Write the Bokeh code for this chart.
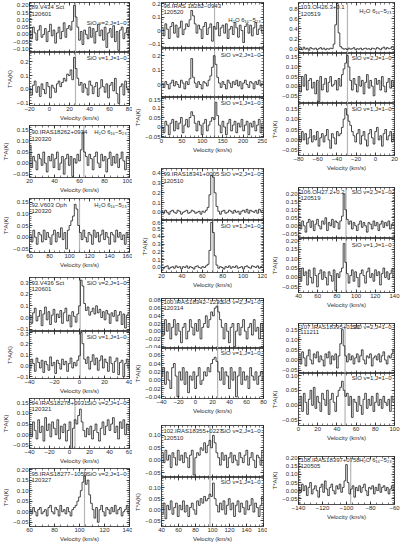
import numpy as np
from bokeh.plotting import figure
from bokeh.layouts import column, row
from bokeh.models import LinearAxis, FixedTicker, Span, Label, CustomLabelingPolicy
from bokeh.embed import file_html
from bokeh.resources import INLINE

FONT = "Liberation Sans"
INK = "#2b2b2b"
FS = "6px"

SIO2 = "SiO v=2,J=1−0"
SIO1 = "SiO v=1,J=1−0"
H2O = "H₂O 6₁₆−5₂₃"
YLABEL = "T*A(K)"
XLABEL = "Velocity (km/s)"

# ---------------- tick values ----------------
Y05 = [-0.10, -0.05, 0.0, 0.05, 0.10, 0.15, 0.20]
Y1 = [-0.1, 0.0, 0.1, 0.2, 0.3, 0.4, 0.5, 0.6]
Y02 = [-0.04, -0.02, 0.0, 0.02, 0.04, 0.06, 0.08]
Y2 = [0.0, 0.2, 0.4, 0.6, 0.8]

# ---------------- spectra (antenna temperature, K) ----------------
P89_S2 = [0.02,-0.03,0.05,0.01,-0.04,0.03,0.06,-0.02,0.00,0.04,
          -0.05,0.02,0.07,-0.01,0.03,-0.06,0.01,0.05,-0.03,0.02,
          0.08,-0.02,0.04,0.06,0.03,0.09,0.20,0.12,0.05,-0.04,
          0.02,-0.07,0.03,0.00,-0.03,0.05,-0.02,0.04,-0.06,0.02,
          0.07,-0.01,0.03,-0.04,0.05,-0.09,0.01,0.04,-0.02,0.06,
          -0.05,0.02,-0.11,0.03,0.05,-0.03,0.01,0.04,-0.02]
P89_S1 = [0.01,-0.04,0.03,0.06,-0.02,0.02,-0.05,0.04,0.00,-0.03,
          0.05,0.02,-0.06,0.03,0.01,-0.02,0.04,0.06,0.02,0.05,
          0.08,0.06,0.11,0.10,0.14,0.07,0.23,0.15,0.08,0.03,
          0.05,-0.02,0.04,0.01,-0.04,0.06,0.03,-0.03,0.02,0.05,
          -0.05,0.01,0.07,0.02,-0.02,0.04,-0.06,0.03,0.05,-0.01,
          0.08,-0.03,-0.10,0.02,0.04,-0.04,0.06,0.01,-0.02]
P90_H2O = [0.08,-0.02,0.03,0.01,-0.03,0.04,0.02,-0.01,0.05,0.00,
           -0.04,0.03,0.01,0.04,-0.02,0.02,0.05,-0.03,0.00,0.03,
           -0.05,0.02,0.04,-0.01,0.03,-0.06,0.02,0.00,0.04,0.01,
           0.06,0.14,0.05,0.03,-0.01,0.04,0.02,-0.03,0.03,0.05,
           0.00,-0.02,0.04,0.01,0.03,-0.04,0.02,0.05,-0.01,0.03,
           0.00,0.04,-0.02,0.02,0.05,0.01,-0.03,0.03,0.02]
P92_H2O = [0.01,-0.02,0.03,0.00,-0.03,0.02,0.01,-0.02,0.03,-0.01,
           0.02,0.00,-0.03,0.01,0.03,-0.02,0.02,0.00,0.04,-0.01,
           0.02,-0.05,0.03,0.05,0.07,0.09,0.14,0.12,0.05,0.02,
           -0.01,0.03,0.00,-0.02,0.02,0.01,-0.03,0.03,0.00,0.02,
           -0.02,0.01,0.03,-0.01,0.02,0.00,-0.03,0.02,0.01,-0.02,
           0.03,0.00,0.02,-0.01,0.01,-0.03,0.02,0.00]
P93_S2 = [0.02,-0.05,0.04,0.08,-0.03,0.01,0.06,-0.07,0.03,0.09,
          -0.02,0.05,-0.06,0.02,0.07,-0.04,0.03,0.00,0.06,-0.05,
          0.04,0.08,-0.03,0.02,-0.08,0.05,0.01,-0.04,0.03,0.10,
          0.32,0.27,0.12,0.06,0.09,0.02,0.05,0.08,0.03,0.10,
          0.04,0.07,0.00,0.05,-0.02,0.06,0.03,-0.05,0.04,0.01,
          0.06,-0.03,0.02,0.05,-0.06,0.03,-0.09,0.02,0.04]
P93_S1 = [-0.03,0.06,0.02,-0.05,0.07,0.03,-0.02,0.05,-0.06,0.04,
          0.01,-0.04,0.08,0.00,0.03,-0.07,0.05,0.02,-0.03,0.06,
          0.01,0.04,-0.05,0.02,0.07,-0.02,0.03,0.00,0.05,0.09,
          0.30,0.20,0.06,0.02,0.08,-0.03,0.04,0.10,0.01,0.07,
          -0.04,0.05,0.09,-0.02,0.06,0.03,-0.05,0.08,0.02,-0.06,
          0.04,0.07,-0.08,0.03,0.05,-0.10,0.02,0.06,-0.03]
P94_S2 = [0.05,-0.01,0.06,0.02,-0.02,0.07,0.01,0.04,-0.03,0.08,
          0.02,0.05,-0.01,0.06,0.03,0.00,0.07,-0.02,0.04,0.01,
          0.05,-0.03,0.02,0.06,-0.07,0.03,0.07,0.05,0.09,0.12,
          0.06,0.02,-0.01,0.03,0.00,0.04,-0.02,0.02,0.05,0.01,
          -0.03,0.03,0.06,0.00,0.04,0.07,0.02,0.05,0.08,0.01,
          0.04,-0.02,0.06,0.03,0.07,0.00,0.05,0.02]
P95_S2 = [0.01,-0.01,0.02,0.00,-0.02,0.01,0.02,-0.01,0.00,0.01,
          -0.02,0.02,0.03,0.00,-0.01,0.02,0.01,-0.02,0.03,0.00,
          0.01,-0.01,0.02,0.00,-0.02,0.01,0.02,0.03,0.05,0.07,
          0.10,0.14,0.17,0.13,0.15,0.08,0.04,0.01,-0.03,0.02,
          -0.05,0.01,0.03,0.00,-0.02,0.02,0.01,-0.01,0.02,0.00,
          0.03,-0.01,0.01,0.02,-0.02,0.00,0.01,0.03,-0.01]
P96_H2O = [0.02,-0.04,0.05,0.01,-0.06,0.03,0.06,-0.02,0.04,-0.05,
           0.02,0.07,-0.03,0.01,0.05,0.03,0.08,0.15,0.11,0.05,
           -0.02,0.04,0.01,-0.06,0.03,0.06,-0.03,0.02,0.05,-0.08,
           0.03,0.01,0.06,-0.04,0.02,0.04,-0.02,0.05,-0.06,0.01,
           0.03,-0.03,0.06,0.02,-0.05,0.04,0.00,-0.09,0.03,0.05,
           -0.02,0.04,-0.04,0.02,0.06,-0.03,0.01,0.04,-0.02]
P96_S2 = [0.01,-0.02,0.02,0.00,-0.03,0.01,0.03,-0.01,0.02,0.00,
          -0.02,0.03,0.01,-0.03,0.02,0.00,0.04,0.18,0.05,0.01,
          -0.02,0.02,0.00,-0.03,0.02,0.01,-0.01,0.03,0.06,0.12,
          0.20,0.14,0.05,0.01,-0.02,0.02,0.00,-0.03,0.03,0.01,
          -0.02,0.02,0.00,0.03,-0.01,0.02,-0.03,0.01,0.03,0.00,
          -0.02,0.02,0.01,-0.03,0.02,0.00,0.03,-0.01,0.01]
P96_S1 = [0.00,-0.03,0.03,0.01,-0.04,0.02,0.04,-0.02,0.03,-0.01,
          0.02,0.05,-0.03,0.01,0.04,0.00,0.05,0.08,0.06,0.02,
          -0.02,0.03,0.01,-0.04,0.02,0.04,-0.02,0.01,0.03,0.05,
          0.04,0.13,0.06,0.01,-0.03,0.03,0.00,-0.04,0.02,0.04,
          -0.02,0.01,0.03,-0.03,0.02,0.00,0.04,-0.02,0.01,0.03,
          -0.04,0.02,0.00,0.03,-0.02,0.01,0.04,-0.03,0.02]
P99_S2 = [0.01,-0.01,0.02,0.00,-0.02,0.01,0.02,0.00,-0.01,0.02,
          0.01,-0.02,0.00,0.01,0.02,-0.01,0.00,0.02,0.01,-0.01,
          0.00,0.01,-0.02,0.01,0.00,0.02,0.05,0.18,0.38,0.36,
          0.20,0.06,0.01,-0.02,0.01,0.02,-0.01,0.00,0.02,0.01,
          -0.01,0.02,0.00,0.01,-0.02,0.01,0.02,0.00,0.03,-0.01,
          0.02,0.01,0.00,0.02,-0.01,0.03,0.01,0.02]
P99_S1 = [0.00,-0.01,0.01,0.02,-0.02,0.00,0.01,-0.01,0.02,0.00,
          0.01,-0.02,0.01,0.00,0.02,-0.01,0.01,0.00,-0.02,0.01,
          0.02,0.00,-0.01,0.01,0.00,0.02,0.04,0.22,0.58,0.45,
          0.15,0.03,-0.01,0.01,0.00,-0.02,0.01,0.00,0.02,-0.01,
          0.01,0.00,0.02,-0.01,0.00,0.01,-0.02,0.01,0.02,0.00,
          -0.01,0.02,0.01,0.00,0.02,-0.01,0.01,0.00]
P100_S2 = [0.02,-0.01,0.03,0.00,0.02,-0.02,0.01,0.03,-0.01,0.02,
           0.00,-0.03,0.01,0.02,-0.02,0.00,0.03,0.01,-0.01,0.02,
           0.00,0.03,-0.02,0.01,0.02,0.04,0.01,0.03,0.05,0.04,
           0.06,0.065,0.05,0.03,0.01,-0.02,0.02,0.00,-0.03,0.01,
           0.02,-0.04,0.00,0.02,-0.01,0.01,0.03,0.00,-0.02,0.01,
           0.02,-0.01,0.03,0.00,0.01,-0.02,0.02,0.00]
P100_S1 = [0.01,0.03,-0.01,0.02,0.00,-0.02,0.03,0.04,0.01,-0.04,
           0.02,0.00,0.03,-0.01,0.02,-0.03,0.01,0.00,0.02,-0.02,
           0.01,0.03,-0.01,0.00,0.02,0.01,0.03,0.02,0.04,0.05,
           0.055,0.045,0.02,0.00,0.03,-0.01,0.02,0.01,-0.02,0.03,
           0.00,0.02,-0.04,0.01,0.03,-0.01,0.02,0.00,0.01,-0.02,
           0.03,0.01,0.00,0.02,-0.01,0.01,0.02,0.00]
P102_S2 = [0.03,-0.01,0.04,0.00,0.02,-0.03,0.03,0.01,-0.02,0.04,
           0.00,0.02,-0.01,0.03,0.01,-0.03,0.02,0.04,-0.06,0.01,
           0.03,0.02,0.05,0.04,0.07,0.03,0.06,0.08,0.05,0.10,
           0.07,0.03,0.01,-0.02,0.03,0.00,0.02,-0.03,0.01,0.03,
           -0.01,0.02,0.00,-0.02,0.03,0.01,-0.01,0.02,0.04,-0.02,
           0.01,0.03,0.00,-0.03,0.02,0.01,-0.02,0.04]
P102_S1 = [-0.02,0.03,-0.04,0.02,0.00,0.04,-0.02,0.01,0.03,-0.03,
           0.02,0.00,0.04,-0.01,0.02,-0.03,0.01,0.03,0.00,-0.02,
           0.04,0.02,0.05,0.03,0.06,0.04,0.05,0.07,0.06,0.12,
           0.05,0.02,-0.01,0.03,0.00,0.04,-0.02,0.02,0.05,0.00,
           0.03,-0.03,0.02,0.04,-0.01,0.03,0.01,-0.02,0.04,0.00,
           0.02,0.05,-0.01,0.03,0.01,-0.03,0.02,0.06]
P103_H2O = [0.01,0.03,-0.01,0.04,0.00,0.02,-0.02,0.03,0.01,0.00,
            0.02,-0.01,0.01,0.03,0.00,0.02,-0.01,0.01,0.00,0.02,
            0.01,0.10,0.48,0.90,0.32,0.05,0.02,0.00,0.01,-0.01,
            0.02,0.00,0.01,0.03,-0.01,0.01,0.00,0.02,-0.01,0.01,
            0.02,0.00,0.01,-0.01,0.02,0.01,0.00,0.03,0.01,-0.01,
            0.02,0.04,0.00,0.03,0.01,0.02,0.05,0.02]
P103_S2 = [0.01,-0.03,0.05,0.00,0.06,-0.02,0.03,0.04,-0.01,0.02,
           -0.04,0.03,-0.08,0.05,-0.02,0.01,0.04,-0.03,0.02,0.05,
           0.00,0.01,0.03,-0.02,0.04,0.00,0.06,0.09,0.12,0.16,
           0.10,0.03,-0.02,0.04,0.01,-0.03,0.05,0.00,0.03,-0.04,
           0.02,0.06,-0.01,0.03,0.00,-0.05,0.04,0.01,0.03,-0.02,
           0.05,0.00,-0.03,0.02,0.04,-0.01,0.03,0.00]
P103_S1 = [0.02,-0.01,0.04,0.00,0.03,-0.02,0.01,0.05,-0.01,0.02,
           0.00,0.04,-0.03,0.01,0.03,-0.01,0.02,0.05,0.00,-0.04,
           0.03,0.01,-0.02,0.04,0.02,0.03,0.06,0.10,0.15,0.12,
           0.09,0.07,0.04,0.02,-0.01,0.03,0.05,-0.02,0.02,0.04,
           0.00,-0.03,0.03,0.05,0.01,-0.02,0.04,0.06,0.00,0.02,
           -0.03,0.03,0.05,0.00,0.02,0.04,-0.01,0.03]
P106_S2 = [0.02,-0.02,0.03,0.00,-0.04,0.02,0.04,-0.01,0.03,-0.03,
           0.01,0.04,0.00,-0.02,0.03,0.01,0.05,-0.03,0.02,0.00,
           0.04,-0.01,0.03,0.02,-0.02,0.03,0.06,0.20,0.10,0.04,
           0.01,0.03,-0.02,0.02,0.00,-0.03,0.01,0.03,-0.01,0.02,
           0.00,-0.04,0.02,0.01,-0.02,0.03,0.00,0.02,-0.03,0.01,
           0.03,-0.01,0.02,0.00,0.03,-0.02,0.01,0.02]
P106_S1 = [0.04,-0.02,0.05,0.01,0.03,-0.04,0.04,0.00,-0.03,0.05,
           0.01,-0.05,0.02,0.04,-0.01,0.03,0.00,-0.04,0.03,0.01,
           -0.02,0.04,-0.07,0.02,0.00,0.03,0.05,0.18,0.08,0.02,
           -0.03,0.01,0.04,-0.02,0.03,0.00,-0.05,0.02,0.04,0.01,
           -0.03,0.03,0.05,0.00,0.02,-0.02,0.04,0.01,0.03,-0.04,
           0.02,0.05,0.00,0.03,-0.01,0.02,0.04,0.00]
P107_S2 = [0.03,-0.02,0.04,0.01,-0.03,0.02,0.05,0.00,-0.02,0.03,
           0.01,0.04,-0.01,0.02,0.00,-0.03,0.03,0.01,0.04,-0.02,
           0.02,0.00,0.03,-0.04,0.02,0.08,0.15,0.07,0.02,-0.01,
           0.03,0.00,0.02,-0.02,0.01,0.03,-0.01,0.02,0.05,0.00,
           -0.02,0.02,0.01,0.03,-0.03,0.01,0.02,0.00,0.03,-0.01,
           0.02,0.04,0.00,-0.02,0.02,0.01,0.03,0.05]
P107_S1 = [0.00,0.03,-0.02,0.04,0.01,-0.03,0.02,0.05,0.00,0.06,
           -0.01,0.03,0.01,-0.02,0.04,0.02,0.00,0.05,-0.03,0.02,
           0.04,0.01,-0.02,0.03,0.05,0.06,0.08,0.05,0.03,0.04,
           0.00,0.03,-0.04,0.02,0.01,-0.02,0.03,0.00,-0.03,0.02,
           0.04,-0.01,0.02,0.00,0.03,-0.02,0.01,0.04,0.00,0.02,
           -0.01,0.03,0.01,0.00,0.02,-0.02,0.03,0.01]
P108_H2O = [0.02,-0.01,0.04,0.00,0.03,-0.03,0.02,0.05,-0.02,0.01,
            0.03,0.00,-0.04,0.02,0.04,-0.01,0.06,0.01,-0.03,0.02,
            0.04,0.00,-0.02,0.03,0.01,0.04,-0.01,0.02,0.06,0.16,
            0.05,-0.02,0.01,0.03,-0.04,0.02,0.00,0.03,-0.01,0.02,
            0.04,0.00,-0.03,0.02,0.01,0.03,-0.02,0.02,0.00,0.04,
            -0.01,0.02,0.03,0.00,0.02,-0.02,0.01,0.03,0.00]


def S(frame, vals, span, yr, yt, yf, ym, line, ldy):
    return dict(frame=frame, vals=vals, span=span, yr=yr, yt=yt, yf=yf, ym=ym, line=line, ldy=ldy)


COL1 = [
    dict(name="89.V434 Sct", date="120601", xr=(-20, 80), xt=[-20, 0, 20, 40, 60, 80], xm=5, vl=26, bl=25, ndy=(4, 11),
         subs=[S((2, 52), P89_S2, (-19.5, 79.5), (-0.125, 0.22), Y05, ".2f", 0.01, SIO2, 20),
               S((52, 105), P89_S1, (-19.5, 79.5), (-0.115, 0.265), Y1, ".1f", 0.02, SIO1, 5)]),
    dict(name="90.IRAS18262+0934", date="120320", xr=(20, 100), xt=[20, 40, 60, 80, 100], xm=5, vl=63.5, bl=25, ndy=(6, 13),
         subs=[S((125, 177), P90_H2O, (20.5, 99.5), (-0.065, 0.17), Y05, ".2f", 0.01, H2O, 6)]),
    dict(name="92.V603 Oph", date="120320", xr=(60, 160), xt=[60, 80, 100, 120, 140, 160], xm=5, vl=110, bl=25, ndy=(6, 12),
         subs=[S((198, 252), P92_H2O, (60.8, 159.2), (-0.065, 0.165), Y05, ".2f", 0.01, H2O, 6)]),
    dict(name="93.V436 Sct", date="120601", xr=(-40, 40), xt=[-40, -20, 0, 20, 40], xm=5, vl=0.5, bl=25, ndy=(5, 11),
         subs=[S((277, 331), P93_S2, (-39.5, 39.5), (-0.12, 0.343), Y1, ".1f", 0.02, SIO2, 5),
               S((331, 378), P93_S1, (-39.5, 39.5), (-0.115, 0.31), Y1, ".1f", 0.02, SIO1, 5)]),
    dict(name="94.IRAS18278+0931", date="120321", xr=(-40, 60), xt=[-40, -20, 0, 20, 40, 60], xm=5, vl=5.5, bl=25, ndy=(4, 10),
         subs=[S((398, 448), P94_S2, (-39.5, 59.5), (-0.065, 0.17), Y05, ".2f", 0.01, SIO2, 4)]),
    dict(name="95.IRAS18277−1059", date="120327", xr=(60, 140), xt=[60, 80, 100, 120, 140], xm=5, vl=104, bl=25, ndy=(5, 11),
         subs=[S((468, 526), P95_S2, (60.5, 139.5), (-0.07, 0.205), Y05, ".2f", 0.01, SIO2, 5)]),
]

COL2 = [
    dict(name="96.IRAS 18282−0943", date="120520", xr=(0, 250), xt=[0, 50, 100, 150, 200, 250], xm=10, vl=130, bl=25, ndy=(3.5, 9.5),
         subs=[S((2, 48), P96_H2O, (2, 248), (-0.135, 0.21), Y1, "g", 0.02, H2O, 17),
               S((48, 97), P96_S2, (2, 248), (-0.09, 0.25), Y1, "g", 0.02, SIO2, 6),
               S((97, 137), P96_S1, (2, 248), (-0.055, 0.155), Y05, "g", 0.01, SIO1, 5)]),
    dict(name="99.IRAS18341+0005", date="120510", xr=(20, 120), xt=[20, 40, 60, 80, 100, 120], xm=5, vl=70.5, bl=25, ndy=(5, 12),
         subs=[S((168, 220), P99_S2, (20.5, 119.5), (-0.085, 0.45), Y1, ".1f", 0.02, SIO2, 5),
               S((220, 272), P99_S1, (20.5, 119.5), (-0.065, 0.605), Y1, ".1f", 0.02, SIO1, 5)]),
    dict(name="100.IRAS18342−1230", date="120314", xr=(-40, 80), xt=[-40, -20, 0, 20, 40, 60, 80], xm=5, vl=26, bl=25, ndy=(3, 9),
         subs=[S((298, 348), P100_S2, (-39.5, 79.5), (-0.045, 0.085), Y02, ".2f", 0.005, SIO2, 3),
               S((348, 398), P100_S1, (-39.5, 79.5), (-0.044, 0.076), Y02, ".2f", 0.005, SIO1, 4)]),
    dict(name="102.IRAS18355+0227", date="120510", xr=(40, 160), xt=[40, 60, 80, 100, 120, 140, 160], xm=5, vl=97, bl=25, ndy=(5, 12), bb=17,
         subs=[S((425, 477), P102_S2, (41, 159), (-0.07, 0.14), Y05, ".2f", 0.01, SIO2, 5),
               S((477, 527), P102_S1, (41, 159), (-0.075, 0.145), Y05, ".2f", 0.01, SIO1, 5)]),
]

COL3 = [
    dict(name="103.OH26.3+0.1", date="120519", xr=(-80, 20), xt=[-80, -60, -40, -20, 0, 20], xm=5, vl=-29, bl=29, ndy=(4, 11),
         subs=[S((2, 53), P103_H2O, (-79.5, 19.5), (-0.085, 0.92), Y2, ".1f", 0.05, H2O, 8),
               S((53, 103), P103_S2, (-79.5, 19.5), (-0.09, 0.17), Y05, ".2f", 0.01, SIO2, 4),
               S((103, 155), P103_S1, (-79.5, 19.5), (-0.075, 0.175), Y05, ".2f", 0.01, SIO1, 5)]),
    dict(name="106.OH27.2+0.2", date="120519", xr=(40, 140), xt=[40, 60, 80, 100, 120, 140], xm=5, vl=89.5, bl=31, ndy=(4, 10),
         subs=[S((187, 238), P106_S2, (40.8, 139.2), (-0.08, 0.24), Y05, ".2f", 0.01, SIO2, 4),
               S((238, 292), P106_S1, (40.8, 139.2), (-0.08, 0.207), Y05, ".2f", 0.01, SIO1, 6)]),
    dict(name="107.IRAS18395+0130", date="111211", xr=(0, 100), xt=[0, 20, 40, 60, 80, 100], xm=5, vl=48.5, bl=24, ndy=(3, 8),
         subs=[S((323, 373), P107_S2, (0.8, 99.2), (-0.067, 0.18), Y05, ".2f", 0.01, SIO2, 3),
               S((373, 425), P107_S1, (0.8, 99.2), (-0.067, 0.106), Y05, ".2f", 0.01, SIO1, 4)]),
    dict(name="108.IRAS18397+0758", date="120505", xr=(-140, -60), xt=[-140, -120, -100, -80, -60], xm=5, vl=-96.5, bl=28, ndy=(3, 9),
         subs=[S((456, 504), P108_H2O, (-139.5, -60.5), (-0.085, 0.21), Y05, ".2f", 0.01, H2O, 3)]),
]


def fmt(t, f):
    s = format(t, f)
    if s in ("-0", "-0.0", "-0.00"):
        s = s[1:]
    return s.replace("-", "−")


def minors(lo, hi, step):
    k0 = int(np.ceil(lo / step - 1e-9))
    k1 = int(np.floor(hi / step + 1e-9))
    return [round(k * step, 6) for k in range(k0, k1 + 1)]


def style_axis(ax, show, label=None):
    ax.axis_line_color = None
    ax.major_tick_in = 3
    ax.major_tick_out = 0
    ax.minor_tick_in = 2
    ax.minor_tick_out = 0
    ax.major_tick_line_color = "#222222"
    ax.minor_tick_line_color = "#222222"
    ax.major_tick_line_width = 0.8
    ax.minor_tick_line_width = 0.6
    ax.major_label_text_font = FONT
    ax.major_label_text_color = INK
    ax.axis_label_text_font = FONT
    ax.axis_label_text_font_size = FS
    ax.axis_label_text_font_style = "normal"
    ax.axis_label_text_color = INK
    if show:
        ax.major_label_text_font_size = FS
        ax.major_label_standoff = 1
        ax.axis_label_standoff = 1
    else:
        ax.major_label_text_font_size = "0px"
        ax.major_label_standoff = 0
        ax.axis_label_standoff = 0
        ax.major_label_policy = CustomLabelingPolicy(code="return []")
    if label:
        ax.axis_label = label


def add_text(p, pan, sub, fw, fh, dx, dy, text, align):
    x0, x1 = pan["xr"]
    y0, y1 = sub["yr"]
    if align == "left":
        x = x0 + dx / fw * (x1 - x0)
    else:
        x = x1 - dx / fw * (x1 - x0)
    y = y1 - dy / fh * (y1 - y0)
    p.add_layout(Label(x=x, y=y, text=text, text_align=align, text_baseline="middle",
                       text_font=FONT, text_font_size=FS, text_color=INK))


def make_sub(colw, br, bt, bb, pan, sub, first, last):
    top, bot = sub["frame"]
    fh = bot - top
    bl = pan["bl"]
    fw = colw - bl - br
    p = figure(width=colw, height=bt + fh + bb, x_range=pan["xr"], y_range=sub["yr"],
               output_backend="svg", toolbar_location=None,
               x_axis_location=None, y_axis_location=None,
               min_border_left=bl, min_border_right=br, min_border_top=bt, min_border_bottom=bb)
    p.grid.visible = False
    p.outline_line_color = "#222222"
    p.outline_line_width = 0.8
    p.background_fill_color = "white"
    p.border_fill_color = "white"

    xt = FixedTicker(ticks=pan["xt"], minor_ticks=minors(pan["xr"][0], pan["xr"][1], pan["xm"]))
    yt = FixedTicker(ticks=sub["yt"], minor_ticks=minors(sub["yr"][0], sub["yr"][1], sub["ym"]))
    xo = {t: fmt(t, "g") for t in pan["xt"]}
    yo = {t: fmt(t, sub["yf"]) for t in sub["yt"]}
    for loc in ("below", "above"):
        show = last and loc == "below"
        ax = LinearAxis(ticker=xt, major_label_overrides=xo)
        style_axis(ax, show, XLABEL if show else None)
        p.add_layout(ax, loc)
    for loc in ("left", "right"):
        show = loc == "left"
        ax = LinearAxis(ticker=yt, major_label_overrides=yo)
        style_axis(ax, show, YLABEL if (show and last) else None)
        p.add_layout(ax, loc)

    p.add_layout(Span(location=pan["vl"], dimension="height", line_color="#b5b5b5",
                      line_width=1.2, level="underlay"))
    vals = sub["vals"]
    vel = np.linspace(sub["span"][0], sub["span"][1], len(vals))
    p.step(vel, vals, mode="center", line_color="#1a1a1a", line_width=0.8)

    if first:
        add_text(p, pan, sub, fw, fh, 2, pan["ndy"][0], pan["name"], "left")
        add_text(p, pan, sub, fw, fh, 2, pan["ndy"][1], pan["date"], "left")
    add_text(p, pan, sub, fw, fh, 3, sub["ldy"], sub["line"], "right")
    return p


def build_column(colw, br, panels):
    figs = []
    prev = 0
    for pan in panels:
        n = len(pan["subs"])
        for i, sub in enumerate(pan["subs"]):
            top, bot = sub["frame"]
            bt = top - prev
            bb = pan.get("bb", 18) if i == n - 1 else 0
            figs.append(make_sub(colw, br, bt, bb, pan, sub, i == 0, i == n - 1))
            prev = bot + bb
    return column(*figs)


c1 = build_column(132, 3, COL1)
c2 = build_column(135, 4, COL2)
c3 = build_column(133, 6, COL3)
layout = row(c1, c2, c3)

open("out.html", "w").write(file_html(layout, INLINE))
